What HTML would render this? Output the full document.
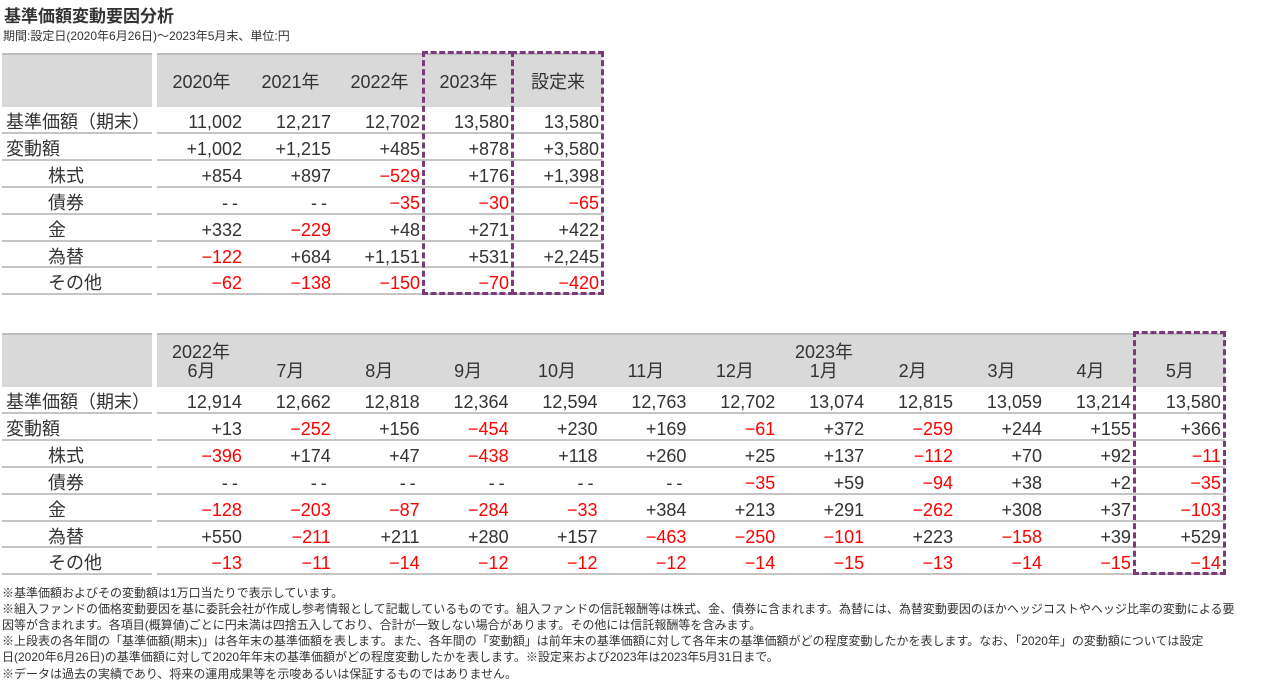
<!DOCTYPE html>
<html><head><meta charset="utf-8">
<style>
body{margin:0;width:1280px;height:685px;background:#fff;font-family:"Liberation Sans","Noto Sans CJK JP",sans-serif;color:#333;position:relative;overflow:hidden}
.a{position:absolute;white-space:nowrap}
.hd{position:absolute;background:#d9d9d9;border-top:2px solid #bdbdbd}
.ln{position:absolute;height:2px;background:#c4c4c4}
.c{position:absolute;font-size:18px;text-align:right;white-space:nowrap;line-height:22px}
.neg{color:#f00}
.lab{position:absolute;font-size:18px;white-space:nowrap;line-height:22px}
.dash{position:absolute;border:3px dashed #7b3a7b;box-sizing:border-box}
.note{position:absolute;left:2px;font-size:12px;line-height:16px;white-space:nowrap}
</style></head><body>
<div class="a" style="left:4px;top:2px;font-size:17px;font-weight:bold">基準価額変動要因分析</div>
<div class="a" style="left:3px;top:27px;font-size:12px">期間:設定日(2020年6月26日)～2023年5月末、単位:円</div>
<div id="t1"></div>
<div id="t2"></div>
<div class="note" style="top:585px">※基準価額およびその変動額は1万口当たりで表示しています。</div>
<div class="note" style="top:601px">※組入ファンドの価格変動要因を基に委託会社が作成し参考情報として記載しているものです。組入ファンドの信託報酬等は株式、金、債券に含まれます。為替には、為替変動要因のほかヘッジコストやヘッジ比率の変動による要</div>
<div class="note" style="top:617px">因等が含まれます。各項目(概算値)ごとに円未満は四捨五入しており、合計が一致しない場合があります。その他には信託報酬等を含みます。</div>
<div class="note" style="top:633px">※上段表の各年間の「基準価額(期末)」は各年末の基準価額を表します。また、各年間の「変動額」は前年末の基準価額に対して各年末の基準価額がどの程度変動したかを表します。なお、「2020年」の変動額については設定</div>
<div class="note" style="top:649px">日(2020年6月26日)の基準価額に対して2020年年末の基準価額がどの程度変動したかを表します。※設定来および2023年は2023年5月31日まで。</div>
<div class="note" style="top:666px">※データは過去の実績であり、将来の運用成果等を示唆あるいは保証するものではありません。</div>
<script>
const rowLabels=["基準価額（期末）","変動額","株式","債券","金","為替","その他"];
const indent=[false,false,true,true,true,true,true];
const annualCols=["2020年","2021年","2022年","2023年","設定来"];
const annualVals=[
["11,002","12,217","12,702","13,580","13,580"],
["+1,002","+1,215","+485","+878","+3,580"],
["+854","+897","-529","+176","+1,398"],
["--","--","-35","-30","-65"],
["+332","-229","+48","+271","+422"],
["-122","+684","+1,151","+531","+2,245"],
["-62","-138","-150","-70","-420"]];
const monthCols=["6月","7月","8月","9月","10月","11月","12月","1月","2月","3月","4月","5月"];
const monthVals=[
["12,914","12,662","12,818","12,364","12,594","12,763","12,702","13,074","12,815","13,059","13,214","13,580"],
["+13","-252","+156","-454","+230","+169","-61","+372","-259","+244","+155","+366"],
["-396","+174","+47","-438","+118","+260","+25","+137","-112","+70","+92","-11"],
["--","--","--","--","--","--","-35","+59","-94","+38","+2","-35"],
["-128","-203","-87","-284","-33","+384","+213","+291","-262","+308","+37","-103"],
["+550","-211","+211","+280","+157","-463","-250","-101","+223","-158","+39","+529"],
["-13","-11","-14","-12","-12","-12","-14","-15","-13","-14","-15","-14"]];
function mk(parent,cls,style,text,name){const d=document.createElement('div');d.className=cls;d.style.cssText=style;if(text!==undefined)d.textContent=text;


parent.appendChild(d);return d;}
function build(id,cols,vals,hTop,hH,x0,colW,lastW,dashFrom,labTop,extra){
const p=document.getElementById(id);
const right=x0+colW*(cols.length-1)+lastW;
mk(p,'hd',`left:2px;top:${hTop}px;width:150px;height:${hH}px`,undefined,'header-blank');
mk(p,'hd',`left:${x0}px;top:${hTop}px;width:${right-x0}px;height:${hH}px`,undefined,'header-row');
cols.forEach((c,i)=>{const w=i==cols.length-1?lastW:colW;const x=x0+i*colW;
 mk(p,'a',`left:${x}px;top:${labTop}px;width:${w}px;text-align:center;font-size:18px`,c,'col-header');});
if(extra)extra(p);
const r0=hTop+hH+2,rh=26.9;
vals.forEach((row,r)=>{const y=r0+r*rh;
 mk(p,'lab',`left:${indent[r]?48:6}px;top:${y+4}px`,rowLabels[r],'row-label');
 mk(p,'ln',`left:2px;top:${y+rh-2}px;width:150px`,undefined,'row-line');
 mk(p,'ln',`left:${x0}px;top:${y+rh-2}px;width:${right-x0}px`,undefined,'row-line');
 row.forEach((v,i)=>{const w=i==cols.length-1?lastW:colW;const x=x0+i*colW;
  const neg=v.startsWith('-')&&v!=='--';
  const el=mk(p,'c'+(neg?' neg':''),`left:${x}px;top:${y+4}px;width:${w-4}px`,v.replace(/^-(?=\d)/,'−'),'cell');
  if(v==='--')el.style.letterSpacing='4px';});
});
const bottom=r0+vals.length*rh;
for(let i=dashFrom;i<cols.length;i++){const w=i==cols.length-1?lastW:colW;const x=x0+i*colW;
 mk(p,'dash',`left:${x-2}px;top:${hTop-2}px;width:${w+3}px;height:${bottom-hTop+2}px`,undefined,'highlight-box');}
}
build('t1',annualCols,annualVals,53,52,157,89,90,3,68);
build('t2',monthCols,monthVals,333,52,157,88.9,90,11,357,p=>{
 mk(p,'a','left:157px;top:338px;width:88px;text-align:center;font-size:18px','2022年','year-label-2022');
 mk(p,'a','left:780px;top:338px;width:88px;text-align:center;font-size:18px','2023年','year-label-2023');
});
</script>
</body></html>
